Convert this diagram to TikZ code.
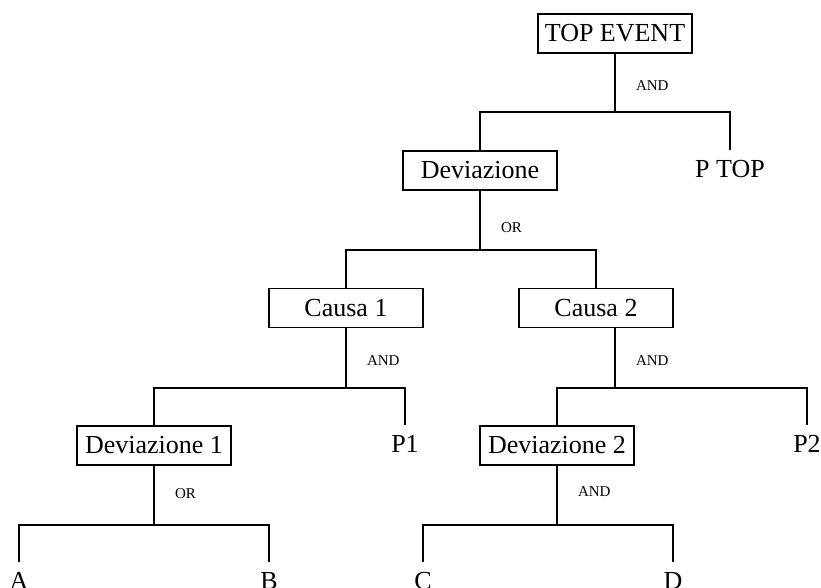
\documentclass[tikz,border=0pt]{standalone}
\usepackage{fontspec}
\setmainfont{Liberation Serif}
\usetikzlibrary{positioning,calc}

\tikzset{
    event/.style={draw, line width=1.3pt, minimum width=154pt, minimum height=39pt,
        inner sep=0pt, font=\fontsize{26}{30}\selectfont},
    leaf/.style={anchor=north, inner xsep=0pt, inner ysep=10pt,
        font=\fontsize{26}{30}\selectfont},
    gate/.style={anchor=west, inner sep=0pt, xshift=20pt,
        font=\fontsize{15}{18}\selectfont},
    link/.style={line width=2pt}
}

\begin{document}
\begin{tikzpicture}[x=1pt, y=-1pt]
    \useasboundingbox (0,0) rectangle (821,588);

    % Events
    \node[event] (top) at (615,33.5) {TOP EVENT};
    \node[event] (dev) at (480,170.5) {Deviazione};
    \node[event] (c1) at (346,308) {Causa 1};
    \node[event] (c2) at (596,308) {Causa 2};
    \node[event] (dev1) at (154,445.5) {Deviazione 1};
    \node[event] (dev2) at (557,445.5) {Deviazione 2};

    % Leaves
    \node[leaf] (ptop) at (730,150) {P TOP};
    \node[leaf] (p1) at (405,425) {P1};
    \node[leaf] (p2) at (807,425) {P2};
    \node[leaf] (a) at (19,562) {A};
    \node[leaf] (b) at (269,562) {B};
    \node[leaf] (c) at (423,562) {C};
    \node[leaf] (d) at (673,562) {D};

    % Gate junctions
    \coordinate (j0) at (615,112);
    \coordinate (j1) at (480,250);
    \coordinate (j2) at (346,388);
    \coordinate (j3) at (615,388);
    \coordinate (j4) at (154,525);
    \coordinate (j5) at (557,525);

    % Gates
    \draw[link] (top) -- node[gate, pos=.54] {AND} (j0);
    \draw[link] (dev) |- (j0) -| (ptop);
    \draw[link] (dev) -- node[gate, pos=.63] {OR} (j1);
    \draw[link] (c1) |- (j1) -| (c2);
    \draw[link] (c1) -- node[gate, pos=.54] {AND} (j2);
    \draw[link] (dev1) |- (j2) -| (p1);
    \draw[link] (c2.south -| j3) -- node[gate, pos=.54] {AND} (j3);
    \draw[link] (dev2) |- (j3) -| (p2);
    \draw[link] (dev1) -- node[gate, pos=.47] {OR} (j4);
    \draw[link] (a) |- (j4) -| (b);
    \draw[link] (dev2) -- node[gate, pos=.43] {AND} (j5);
    \draw[link] (c) |- (j5) -| (d);
\end{tikzpicture}
\end{document}
